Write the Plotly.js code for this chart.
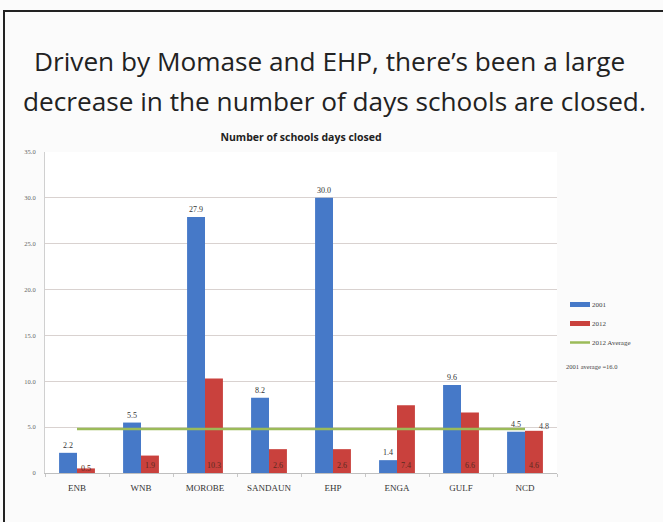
<!DOCTYPE html>
<html><head><meta charset="utf-8">
<script src="https://cdn.plot.ly/plotly-3.0.1.min.js"></script>
<style>
html,body{margin:0;padding:0;background:#fff;}
#chart{width:663px;height:522px;}
#frame{position:absolute;left:3px;top:10px;width:700px;height:600px;border-left:2px solid #222;border-top:2px solid #222;pointer-events:none;}
</style></head>
<body>
<div id="chart"></div>
<div id="frame"></div>
<script>
const categories = ["ENB","WNB","MOROBE","SANDAUN","EHP","ENGA","GULF","NCD"];
const values2001 = [2.2, 5.5, 27.9, 8.2, 30.0, 1.4, 9.6, 4.5];
const values2012 = [0.5, 1.9, 10.3, 2.6, 2.6, 7.4, 6.6, 4.6];
const average2012 = [4.8, 4.8, 4.8, 4.8, 4.8, 4.8, 4.8, 4.8];
const yTickVals = [0, 5, 10, 15, 20, 25, 30, 35];
const yTickText = ["0","5.0","10.0","15.0","20.0","25.0","30.0","35.0"];
const slideTitle1 = "Driven by Momase and EHP, there’s been a large";
const slideTitle2 = "decrease in the number of days schools are closed.";
const chartTitle = "Number of schools days closed";
const avgNote = "2001 average =16.0";

const fmt = v => v.toFixed(1);

const traces = [
  {type:'bar', name:'2001', x:categories, y:values2001,
   marker:{color:'#4679C8'},
   text:values2001.map(fmt), textposition:'outside', cliponaxis:false, textangle:0,
   textfont:{size:8, color:'#333', family:'Liberation Serif'},
   outsidetextfont:{size:8, color:'#333', family:'Liberation Serif'}},
  {type:'bar', name:'2012', x:categories, y:values2012,
   marker:{color:'#C9413D'},
   text:values2012.map(fmt), textposition:'inside', insidetextanchor:'start', textangle:0,
   constraintext:'none',
   textfont:{size:8, color:'#5a2a20', family:'Liberation Serif'},
   insidetextfont:{size:8, color:'#5a2a20', family:'Liberation Serif'}},
  {type:'scatter', mode:'lines', name:'2012 Average', x:categories, y:average2012,
   line:{color:'#9BBB59', width:2.5}}
];

const layout = {
  width:663, height:522,
  paper_bgcolor:'#fbfbfb', plot_bgcolor:'#ffffff',
  margin:{l:45, r:106, t:152, b:49},
  barmode:'group', bargap:0.44, bargroupgap:0,
  showlegend:true,
  legend:{x:(558-45)/512, y:(473-290)/321, xanchor:'left', yanchor:'top',
          font:{size:7, color:'#444', family:'Liberation Serif'},
          bgcolor:'rgba(0,0,0,0)', tracegroupgap:2, itemwidth:30},
  title:{text:'<b>'+chartTitle+'</b>', x:0.5, xref:'paper', y:1-137/522, yanchor:'middle',
         font:{size:10.5, color:'#222', family:'Open Sans'}},
  xaxis:{type:'category', showgrid:false, showline:true, linecolor:'#bfbfbf', linewidth:1,
         ticks:'outside', tickson:'boundaries', ticklen:3, tickcolor:'#c8c8c8',
         ticklabelstandoff:6,
         tickfont:{size:9, color:'#333', family:'Liberation Serif'}},
  yaxis:{range:[0,35], tickvals:yTickVals, ticktext:yTickText,
         showgrid:true, gridcolor:'#d9d2d0', gridwidth:1.2,
         showline:true, linecolor:'#d0d0d0', zeroline:false,
         ticklabelstandoff:7,
         tickfont:{size:6.5, color:'#666', family:'Liberation Serif'}},
  annotations:[
    {text:slideTitle1, xref:'paper', yref:'paper', x:0.5, y:1+(152-61)/321, xanchor:'center', yanchor:'middle',
     showarrow:false, font:{size:26.2, color:'#222', family:'Open Sans'}, xshift:28},
    {text:slideTitle2, xref:'paper', yref:'paper', x:0.5, y:1+(152-101)/321, xanchor:'center', yanchor:'middle',
     showarrow:false, font:{size:26.2, color:'#222', family:'Open Sans'}, xshift:33},
    {text:avgNote, xref:'paper', yref:'paper', x:(564-45)/512, y:(473-366)/321, xanchor:'left', yanchor:'middle',
     showarrow:false, font:{size:6.5, color:'#444', family:'Liberation Serif'}},
    {text:fmt(average2012[average2012.length-1]), x:categories[categories.length-1], y:average2012[average2012.length-1],
     xref:'x', yref:'y', xanchor:'left', yanchor:'bottom', xshift:12, yshift:-4, showarrow:false,
     font:{size:8, color:'#444', family:'Liberation Serif'}}
  ]
};

Plotly.newPlot('chart', traces, layout, {displayModeBar:false, staticPlot:true}).then(gd => {
  // Excel-style wide, flat legend keys
  gd.querySelectorAll('.legend path.legendbar, .legend .legendpoints path').forEach(p => {
    p.setAttribute('d', 'M12,2.5H-8V-2.5H12Z');
  });
  gd.querySelectorAll('.legend .legendlines path').forEach(p => {
    p.setAttribute('d', 'M12,0h20');
  });
  gd.querySelectorAll('.legend text.legendtext').forEach(t => {
    t.setAttribute('x', '34');
  });
});
</script>
</body></html>
